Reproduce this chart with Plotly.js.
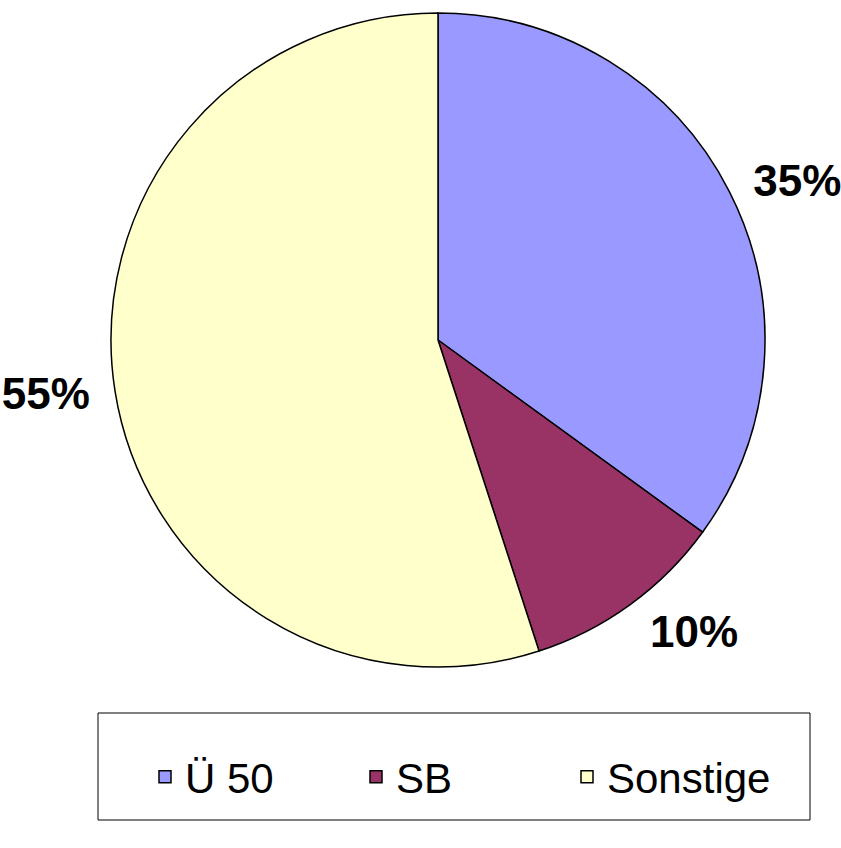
<!DOCTYPE html>
<html>
<head>
<meta charset="utf-8">
<script src="https://cdn.plot.ly/plotly-3.0.1.min.js"></script>
<style>html,body{margin:0;padding:0;background:#fff;}#chart{width:841px;height:848px;}</style>
</head>
<body>
<div id="chart"></div>
<script>
const categories = ["Ü 50", "SB", "Sonstige"];
const shares = [35, 10, 55];
const sliceColors = ["#9999FF", "#993366", "#FFFFCC"];

const fontFam = "Liberation Sans, Arial, sans-serif";

const pieTrace = {
  type: "pie",
  labels: categories,
  values: shares,
  sort: false,
  direction: "clockwise",
  rotation: 0,
  marker: {colors: sliceColors, line: {color: "#000000", width: 1.5}},
  textinfo: "none",
  domain: {x: [111/841, 765/841], y: [181/848, 835/848]},
  automargin: false,
  hoverinfo: "label+percent"
};

// same data, invisible slices: only carries the outside percent labels a bit further out
const labelTrace = {
  type: "pie",
  labels: categories,
  values: shares,
  sort: false,
  direction: "clockwise",
  rotation: 0,
  showlegend: false,
  marker: {colors: ["rgba(0,0,0,0)", "rgba(0,0,0,0)", "rgba(0,0,0,0)"], line: {width: 0}},
  textinfo: "percent",
  texttemplate: "%{percent:.0%}",
  textposition: "outside",
  outsidetextfont: {family: fontFam, size: 44, color: "#000000", weight: "bold"},
  domain: {x: [98/841, 778/841], y: [168/848, 1]},
  automargin: false,
  hoverinfo: "skip"
};

const layout = {
  width: 841, height: 848,
  margin: {l: 0, r: 0, t: 0, b: 0},
  paper_bgcolor: "#ffffff",
  showlegend: true,
  legend: {
    orientation: "h",
    x: 145/841, xanchor: "left",
    y: (848-777)/848, yanchor: "middle",
    font: {family: fontFam, size: 42, color: "#000000"},
    bgcolor: "rgba(0,0,0,0)",
    borderwidth: 0,
    entrywidth: 166,
    entrywidthmode: "pixels",
    traceorder: "normal"
  },
  shapes: [{
    type: "rect", xref: "paper", yref: "paper",
    x0: 98/841, x1: 810/841, y0: (848-820)/848, y1: (848-713)/848,
    line: {color: "#000000", width: 1}, fillcolor: "rgba(0,0,0,0)"
  }]
};

Plotly.newPlot("chart", [pieTrace, labelTrace], layout, {displayModeBar: false, staticPlot: true});
</script>
</body>
</html>
